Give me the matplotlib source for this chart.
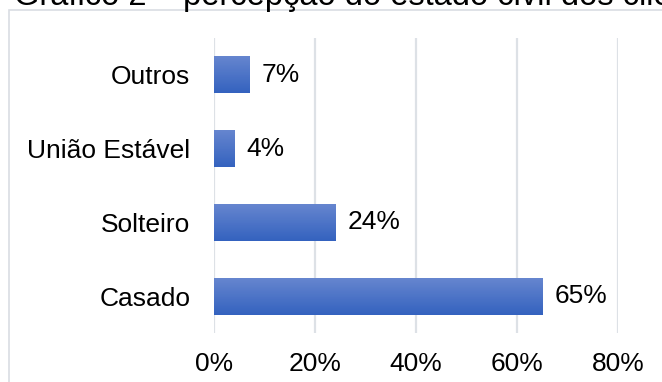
import numpy as np
import matplotlib
matplotlib.use("Agg")
from matplotlib import pyplot as plt
from matplotlib.colors import LinearSegmentedColormap
from matplotlib.ticker import FuncFormatter

# estado civil dos clientes (percentual)
categorias = ["Casado", "Solteiro", "União Estável", "Outros"]
valores = [65, 24, 4, 7]
ticks_x = [0, 20, 40, 60, 80]

plt.rcParams['font.family'] = ['Liberation Sans', 'DejaVu Sans']

fig = plt.figure(figsize=(6.62, 3.82), dpi=100)

# moldura do grafico (so aparecem as bordas de cima e da esquerda)
moldura = plt.Rectangle((8.5 / 662, -0.1), 1.2, 1 - 9.5 / 382 + 0.1,
                        transform=fig.transFigure, fill=False,
                        edgecolor='#d9dde3', linewidth=1.2)
fig.patches.append(moldura)

# titulo cortado no topo
fig.text(14 / 662, 1 - 5.5 / 382, "Gráfico 2 – percepção do estado civil dos clientes",
         fontsize=23.5, va='baseline', ha='left', color='black')

ax = fig.add_axes([214 / 662, 1 - 333 / 382, (618 - 214) / 662, (333 - 38) / 382])

y = np.arange(len(categorias))
barras = ax.barh(y, valores, height=0.5, color='none', edgecolor='none', zorder=3)

# degrade vertical nas barras: claro em cima, escuro embaixo
cmap = LinearSegmentedColormap.from_list('azul', ['#3462bf', '#6686cf'])
grad = np.linspace(0, 1, 64).reshape(-1, 1)
for b in barras:
    x0, y0 = b.get_x(), b.get_y()
    x1, y1 = x0 + b.get_width(), y0 + b.get_height()
    im = ax.imshow(grad, cmap=cmap, aspect='auto', origin='lower',
                   extent=(x0, x1, y0, y1), zorder=3, interpolation='bilinear')
    im.set_clip_path(b)

for b, v in zip(barras, valores):
    ax.annotate(f"{v}%", (b.get_width(), b.get_y() + b.get_height() / 2),
                xytext=(9, 0), textcoords='offset points',
                va='center', ha='left', fontsize=19)

ax.set_xlim(0, 80)
ax.set_ylim(-0.5, 3.5)
ax.set_xticks(ticks_x)
ax.xaxis.set_major_formatter(FuncFormatter(lambda v, p: f"{v:.0f}%"))
ax.set_yticks(y)
ax.set_yticklabels(categorias)
ax.tick_params(axis='both', length=0, labelsize=19)
ax.tick_params(axis='y', pad=17)
ax.tick_params(axis='x', pad=14)
ax.grid(axis='x', color='#dde1e6', linewidth=1.6, zorder=0)
ax.set_axisbelow(True)
for s in ax.spines.values():
    s.set_visible(False)

fig.savefig("out.png", dpi=100)
